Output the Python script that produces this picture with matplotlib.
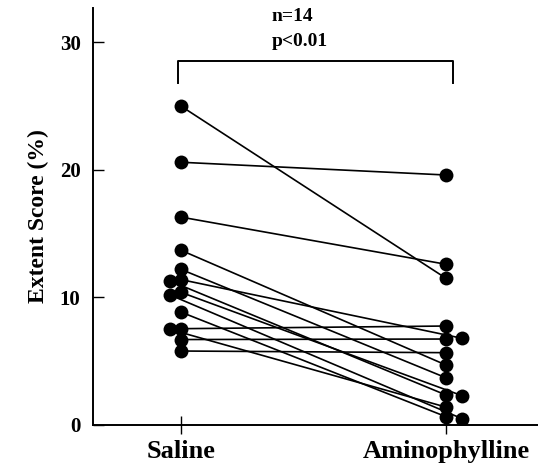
import matplotlib
matplotlib.use("Agg")
import matplotlib.pyplot as plt

# values (Extent Score, %)
saline = [25.0, 20.6, 16.3, 13.7, 12.2, 11.3, 11.4, 10.2, 10.4, 8.85, 7.5, 7.55, 6.7, 5.8]
amino = [11.5, 19.6, 12.6, 4.7, 3.7, 2.35, 6.8, 0.5, 2.3, 0.65, 1.4, 7.76, 6.74, 5.67]
# small horizontal jitter so overlapping dots stay visible
saline_dx = [0, 0, 0, 0, 0, -0.042, 0, -0.042, 0, 0, -0.042, 0, 0, 0]
amino_dx = [0, 0, 0, 0, 0, 0, 0.06, 0.06, 0.06, 0, 0, 0, 0, 0]

groups = ["Saline", "Aminophylline"]
yticks = [0, 10, 20, 30]

plt.rcParams["font.family"] = ["Liberation Serif", "DejaVu Serif"]
plt.rcParams["font.weight"] = "bold"

fig = plt.figure(figsize=(5.38, 4.66), dpi=100)
ax = fig.add_axes([0.1729, 0.088, 0.8271, 0.895])

for s, a, ds, da in zip(saline, amino, saline_dx, amino_dx):
    ax.plot([0 + ds, 1 + da], [s, a], color="black", linewidth=1.2,
            marker="o", markersize=10, markeredgewidth=0, zorder=3)

# significance bracket
ax.plot([-0.01, -0.01, 1.025, 1.025], [26.8, 28.5, 28.5, 26.8],
        color="black", linewidth=1.4)
ax.text(0.343, 32.0, "n=14", fontsize=14, fontweight="bold", ha="left", va="center")
ax.text(0.343, 30.05, "p<0.01", fontsize=14, fontweight="bold", ha="left", va="center")

ax.set_xlim(-0.332, 1.347)
ax.set_ylim(0, 32.7)
ax.set_xticks([0, 1])
ax.set_xticklabels(groups, fontsize=19, fontweight="bold")
ax.set_yticks(yticks)
ax.set_yticklabels([str(t) for t in yticks], fontsize=15, fontweight="bold")
ax.set_ylabel("Extent Score (%)", fontsize=17, fontweight="bold", labelpad=8)

ax.tick_params(axis="y", direction="in", length=8, width=1, pad=9)
ax.tick_params(axis="x", direction="inout", length=13, width=1, pad=4)

for side in ["top", "right"]:
    ax.spines[side].set_visible(False)
for side in ["left", "bottom"]:
    ax.spines[side].set_linewidth(1.4)

fig.savefig("out.png", dpi=100)
